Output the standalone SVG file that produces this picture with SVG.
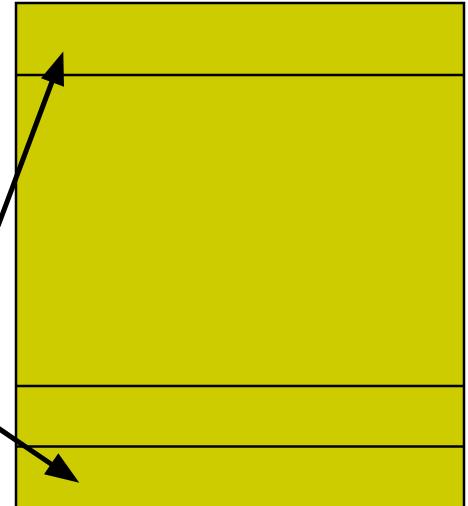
<svg xmlns="http://www.w3.org/2000/svg" width="468" height="506" viewBox="0 0 468 506">
<style>
.box{fill:#cccc00;stroke:#000;stroke-width:2.5}
.div{stroke:#000;stroke-width:2.5;fill:none}
.arr{stroke:#000;stroke-width:5;fill:none}
.head{fill:#000}
</style>
<rect width="468" height="506" fill="#fff"/>
<g id="node-container">
<rect class="box" x="16" y="3" width="448" height="510"/>
<line class="div" x1="16" y1="75" x2="464" y2="75"/>
<line class="div" x1="16" y1="386" x2="464" y2="386"/>
<line class="div" x1="16" y1="446.5" x2="464" y2="446.5"/>
</g>
<g id="connectors">
<line class="arr" x1="-2" y1="226" x2="53" y2="79"/>
<polygon class="head" points="63.3,51.5 41,78.3 64,86.7"/>
<line class="arr" x1="-2" y1="428" x2="54" y2="466"/>
<polygon class="head" points="79.3,482.7 44,474.3 58.3,453.3"/>
</g>
</svg>
